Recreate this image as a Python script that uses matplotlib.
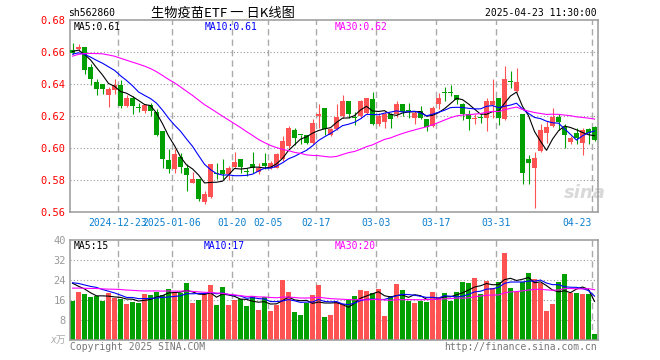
import matplotlib
matplotlib.use('Agg')
import matplotlib.pyplot as plt
import numpy as np
import pandas as pd

plt.rcParams['font.family'] = ['DejaVu Sans Mono', 'Noto Sans CJK SC']

# daily candles, 2024-12-11 .. 2025-04-23 (88 trading days)
opens = [0.6613, 0.6617, 0.6633, 0.6508, 0.6415, 0.6402, 0.6329, 0.6360, 0.6396, 0.6263,
         0.6315, 0.6250, 0.6231, 0.6269, 0.6227, 0.6106, 0.5927, 0.5867, 0.5946, 0.5877,
         0.5783, 0.5804, 0.5665, 0.5694, 0.5846, 0.5863, 0.5835, 0.5881, 0.5929, 0.5854,
         0.5898, 0.5852, 0.5904, 0.5873, 0.5877, 0.5929, 0.6013, 0.6113, 0.6082, 0.6081,
         0.6033, 0.6200, 0.6252, 0.6081, 0.6117, 0.6200, 0.6294, 0.6192, 0.6200, 0.6221,
         0.6304, 0.6148, 0.6165, 0.6210, 0.6210, 0.6277, 0.6230, 0.6185, 0.6231, 0.6179,
         0.6138, 0.6277, 0.6346, 0.6346, 0.6331, 0.6277, 0.6210, 0.6183, 0.6196, 0.6185,
         0.6269, 0.6315, 0.6179, 0.6417, 0.6356, 0.6210, 0.5933, 0.5877, 0.5981, 0.6096,
         0.6138, 0.6196, 0.6131, 0.6038, 0.6096, 0.6033, 0.6117, 0.6131]
highs = [0.6658, 0.6648, 0.6633, 0.6523, 0.6429, 0.6402, 0.6383, 0.6429, 0.6423, 0.6331,
         0.6325, 0.6283, 0.6277, 0.6283, 0.6242, 0.6106, 0.5992, 0.5992, 0.5971, 0.5898,
         0.5852, 0.5804, 0.5731, 0.5902, 0.5904, 0.5929, 0.5888, 0.5977, 0.5929, 0.5877,
         0.5977, 0.5904, 0.5971, 0.5919, 0.5971, 0.6075, 0.6138, 0.6127, 0.6082, 0.6081,
         0.6179, 0.6277, 0.6252, 0.6127, 0.6273, 0.6329, 0.6294, 0.6227, 0.6298, 0.6315,
         0.6352, 0.6221, 0.6225, 0.6221, 0.6294, 0.6277, 0.6283, 0.6231, 0.6263, 0.6179,
         0.6263, 0.6346, 0.6383, 0.6394, 0.6331, 0.6283, 0.6235, 0.6210, 0.6210, 0.6315,
         0.6433, 0.6315, 0.6513, 0.6481, 0.6498, 0.6210, 0.5956, 0.5977, 0.6148, 0.6169,
         0.6252, 0.6210, 0.6152, 0.6075, 0.6127, 0.6127, 0.6127, 0.6138]
lows = [0.6590, 0.6606, 0.6460, 0.6392, 0.6329, 0.6340, 0.6258, 0.6340, 0.6248, 0.6258,
        0.6210, 0.6227, 0.6221, 0.6200, 0.6075, 0.5877, 0.5846, 0.5846, 0.5846, 0.5731,
        0.5779, 0.5669, 0.5648, 0.5690, 0.5804, 0.5804, 0.5798, 0.5877, 0.5846, 0.5825,
        0.5846, 0.5835, 0.5867, 0.5867, 0.5873, 0.5919, 0.6002, 0.6019, 0.6023, 0.6027,
        0.6027, 0.6127, 0.6081, 0.6075, 0.6110, 0.6190, 0.6190, 0.6144, 0.6190, 0.6210,
        0.6144, 0.6138, 0.6127, 0.6127, 0.6194, 0.6200, 0.6190, 0.6152, 0.6179, 0.6106,
        0.6131, 0.6242, 0.6294, 0.6325, 0.6277, 0.6175, 0.6110, 0.6152, 0.6158, 0.6106,
        0.6190, 0.6144, 0.6173, 0.6377, 0.6352, 0.5773, 0.5777, 0.5623, 0.5977, 0.6033,
        0.6131, 0.6110, 0.6002, 0.6027, 0.6023, 0.5956, 0.6027, 0.6044]
closes = [0.6596, 0.6633, 0.6485, 0.6429, 0.6367, 0.6367, 0.6369, 0.6396, 0.6265, 0.6315,
          0.6263, 0.6248, 0.6269, 0.6231, 0.6081, 0.5929, 0.5867, 0.5965, 0.5881, 0.5829,
          0.5804, 0.5679, 0.5715, 0.5898, 0.5835, 0.5835, 0.5877, 0.5915, 0.5881, 0.5852,
          0.5877, 0.5877, 0.5888, 0.5904, 0.5961, 0.6044, 0.6127, 0.6065, 0.6080, 0.6033,
          0.6158, 0.6210, 0.6117, 0.6117, 0.6196, 0.6294, 0.6215, 0.6190, 0.6294, 0.6310,
          0.6148, 0.6200, 0.6215, 0.6179, 0.6277, 0.6225, 0.6229, 0.6221, 0.6185, 0.6133,
          0.6252, 0.6315, 0.6344, 0.6344, 0.6298, 0.6210, 0.6179, 0.6185, 0.6185, 0.6294,
          0.6294, 0.6190, 0.6433, 0.6415, 0.6415, 0.5846, 0.5904, 0.5935, 0.6110, 0.6133,
          0.6196, 0.6165, 0.6081, 0.6065, 0.6061, 0.6113, 0.6096, 0.6048]
volumes = [15.7, 19.3, 18.4, 17.3, 17.6, 15.7, 18.7, 16.9, 16.3, 14.4,
           15.3, 14.9, 18.5, 18.0, 19.3, 18.0, 20.4, 19.3, 18.7, 22.9,
           14.9, 16.0, 18.7, 22.0, 14.0, 21.3, 14.0, 16.0, 16.4, 13.6,
           17.6, 12.0, 17.1, 11.6, 14.0, 24.0, 19.3, 11.3, 10.0, 14.7,
           18.0, 22.0, 9.3, 10.0, 15.3, 14.4, 16.4, 17.6, 20.0, 19.6,
           18.9, 20.4, 9.6, 17.6, 22.4, 20.0, 15.7, 14.9, 15.7, 15.3,
           19.3, 17.3, 18.9, 15.7, 19.2, 23.2, 22.9, 24.9, 18.3, 23.7,
           20.7, 23.2, 34.9, 20.9, 19.3, 23.2, 26.7, 24.4, 22.7, 11.7,
           14.4, 23.2, 26.5, 18.9, 18.9, 18.5, 18.4, 2.4]

# 29 sessions before the window, estimated from where the MA lines start
prev_close = [0.630, 0.635, 0.640, 0.638, 0.642,
              0.658, 0.663, 0.665, 0.668, 0.663, 0.661, 0.665, 0.669, 0.667, 0.663,
              0.660, 0.662, 0.665, 0.663, 0.659,
              0.655, 0.658, 0.660, 0.657, 0.655, 0.659, 0.662, 0.660, 0.661]
prev_volume = [18.5, 21.0, 19.2, 17.8, 20.5, 22.1, 18.0, 19.5, 20.8, 18.7,
               19.9, 21.3, 17.6, 19.0, 20.2, 18.4, 21.5, 19.3, 20.0, 20.0,
               22.0, 24.5, 23.0, 21.8, 24.2, 25.3, 23.8, 24.9, 23.8]

grid_idx = [8, 17, 27, 33, 41, 51, 61, 71, 87]
grid_labels = ['2024-12-23', '2025-01-06', '01-20', '02-05', '02-17',
               '03-03', '03-17', '03-31', '04-23']

up_color = '#ff5353'
down_color = '#00a000'
grid_color = '#aaaaaa'

n = len(closes)
x = np.arange(n)
o = np.array(opens)
c = np.array(closes)
colors = np.where(c >= o, up_color, down_color)

cs = pd.Series(prev_close + closes)
vs = pd.Series(prev_volume + volumes)
pm = {k: cs.rolling(k).mean().values[29:] for k in (5, 10, 30)}
vm = {k: vs.rolling(k).mean().values[29:] for k in (5, 10, 30)}

W, H = 660, 360
fig = plt.figure(figsize=(6.6, 3.6), dpi=100)
ax = fig.add_axes([70 / W, 148 / H, 528 / W, 192 / H])
axv = fig.add_axes([70 / W, 20 / H, 528 / W, 100 / H])

xlim = (-0.42, n - 0.42)

# price panel
for g in grid_idx:
    ax.axvline(g - 0.42, color=grid_color, lw=1.0, ls=(0, (4.5, 3)), zorder=0)
    axv.axvline(g - 0.42, color=grid_color, lw=1.0, ls=(0, (4.5, 3)), zorder=0)
for yv in [0.58, 0.60, 0.62, 0.64, 0.66]:
    ax.axhline(yv, color='#999999', lw=0.8, ls=(0, (1, 2)), zorder=0)

ax.vlines(x, lows, highs, colors=colors, lw=0.8, zorder=2)
ax.bar(x, np.maximum(np.abs(c - o), 0.0006), bottom=np.minimum(o, c), width=0.82,
       color=colors, lw=0, zorder=3)
ax.plot(x, pm[5], color='black', lw=0.8, zorder=4)
ax.plot(x, pm[10], color='#0000ff', lw=0.8, zorder=4)
ax.plot(x, pm[30], color='#ff00ff', lw=0.8, zorder=4)

ax.set_xlim(*xlim)
ax.set_ylim(0.56, 0.68)
ax.set_yticks([0.56, 0.58, 0.60, 0.62, 0.64, 0.66, 0.68])
ax.set_yticklabels(['0.56', '0.58', '0.60', '0.62', '0.64', '0.66', '0.68'])
ax.tick_params(axis='y', length=0, pad=3, labelcolor='#ff0000', labelsize=7.5)
ax.set_xticks([g - 0.42 for g in grid_idx])
ax.set_xticklabels(grid_labels)
ax.tick_params(axis='x', length=0, pad=4, labelcolor='#0a7fd0', labelsize=7)
ax.get_xticklabels()[-1].set_ha('right')

ax.text(4 / 528, 1 - 7 / 192, 'MA5:0.61', transform=ax.transAxes, fontsize=7,
        color='black', va='center')
ax.text(135 / 528, 1 - 7 / 192, 'MA10:0.61', transform=ax.transAxes, fontsize=7,
        color='#0000ff', va='center')
ax.text(265 / 528, 1 - 7 / 192, 'MA30:0.62', transform=ax.transAxes, fontsize=7,
        color='#ff00ff', va='center')
ax.text(0.975, 0.1, 'sina', transform=ax.transAxes, fontsize=13, color='#d9d9d9',
        style='italic', weight='bold', ha='center', va='center',
        family='DejaVu Sans', zorder=1)

# volume panel
for yv in [8, 16, 24, 32]:
    axv.axhline(yv, color='#999999', lw=0.8, ls=(0, (1, 2)), zorder=0)
axv.bar(x, volumes, width=0.82, color=colors, lw=0, zorder=2)
axv.plot(x, vm[5], color='black', lw=0.8, zorder=4)
axv.plot(x, vm[10], color='#0000ff', lw=0.8, zorder=4)
axv.plot(x, vm[30], color='#ff00ff', lw=0.8, zorder=4)
axv.set_xlim(*xlim)
axv.set_ylim(0, 40)
axv.set_xticks([])
axv.set_yticks([8, 16, 24, 32, 40])
axv.set_yticklabels(['8', '16', '24', '32', '40'])
axv.tick_params(axis='y', length=0, pad=3, labelcolor='#999999', labelsize=7.5)
axv.text(-4 / 528, 0.0, 'x万', transform=axv.transAxes, fontsize=7, color='#aaaaaa',
         ha='right', va='center', style='italic')

axv.text(4 / 528, 1 - 6 / 100, 'MA5:15', transform=axv.transAxes, fontsize=7,
         color='black', va='center')
axv.text(134 / 528, 1 - 6 / 100, 'MA10:17', transform=axv.transAxes, fontsize=7,
         color='#0000ff', va='center')
axv.text(265 / 528, 1 - 6 / 100, 'MA30:20', transform=axv.transAxes, fontsize=7,
         color='#ff00ff', va='center')

for a in (ax, axv):
    for s in a.spines.values():
        s.set_color('#999999')
        s.set_linewidth(1.1)

# header and footer
fig.text(68 / W, 1 - 13 / H, 'sh562860', fontsize=7, va='center')
fig.text(151 / W, 1 - 13 / H, '生物疫苗ETF 一 日K线图', fontsize=9.5, va='center',
         family=['Noto Sans CJK SC'])
fig.text(597 / W, 1 - 13 / H, '2025-04-23 11:30:00', fontsize=7, va='center', ha='right')
fig.text(70 / W, 1 - 347 / H, 'Copyright 2025 SINA.COM', fontsize=7, va='center',
         color='#777777')
fig.text(597 / W, 1 - 347 / H, 'http://finance.sina.com.cn', fontsize=7, va='center',
         ha='right', color='#777777')

fig.savefig('out.png', dpi=100)
